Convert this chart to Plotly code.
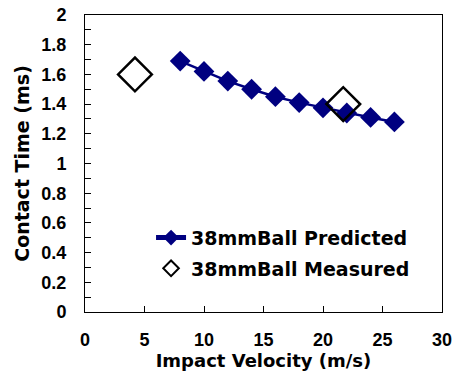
import plotly.graph_objects as go

pred_x = [8, 10, 12, 14, 16, 18, 20, 22, 24, 26]
pred_y = [1.69, 1.62, 1.555, 1.50, 1.45, 1.41, 1.375, 1.34, 1.31, 1.28]
meas_x = [4.2, 21.7]
meas_y = [1.60, 1.40]

x_ticks = [0, 5, 10, 15, 20, 25, 30]
x_labels = ["0", "5", "10", "15", "20", "25", "30"]
y_ticks = [0, 0.2, 0.4, 0.6, 0.8, 1.0, 1.2, 1.4, 1.6, 1.8, 2.0]
y_labels = ["0", "0.2", "0.4", "0.6", "0.8", "1", "1.2", "1.4", "1.6", "1.8", "2"]

tickfont = dict(family="Liberation Sans", size=18, color="black", weight="bold")
titlefont = "DejaVu Sans"

fig = go.Figure()
fig.add_trace(go.Scatter(
    x=pred_x, y=pred_y, mode="lines+markers", name="38mmBall Predicted",
    legendgroup="a",
    line=dict(color="#000080", width=2.5),
    marker=dict(symbol="diamond", size=16, color="#000080"),
))
fig.add_trace(go.Scatter(
    x=meas_x, y=meas_y, mode="markers", name="38mmBall Measured",
    legendgroup="b",
    marker=dict(symbol="diamond", size=26, color="rgba(255,255,255,0)",
                line=dict(color="black", width=2.5)),
))

fig.update_layout(
    template="none",
    width=456, height=371,
    margin=dict(l=85, r=14, t=15, b=59, autoexpand=False),
    paper_bgcolor="white", plot_bgcolor="white",
    showlegend=True,
    legend=dict(x=0.185, y=0.314, xanchor="left", yanchor="top",
                bgcolor="rgba(0,0,0,0)", itemsizing="constant",
                font=dict(family=titlefont, size=19, color="black", weight="bold"),
                tracegroupgap=3),
    xaxis=dict(range=[0, 30], tickvals=x_ticks,
               ticktext=["<b>%s</b>" % t for t in x_labels],
               showgrid=False, zeroline=False, automargin=False,
               showline=True, linecolor="black", linewidth=1, mirror=True,
               ticks="inside", ticklen=6, tickcolor="black",
               tickfont=tickfont, ticklabeloverflow="allow",
               ticklabelstandoff=11,
               title=dict(text="<b>Impact Velocity (m/s)</b>", standoff=6,
                          font=dict(family=titlefont, size=18, color="black"))),
    yaxis=dict(range=[0, 2], tickvals=y_ticks,
               ticktext=["<b>%s</b>" % t for t in y_labels],
               showgrid=False, zeroline=False, automargin=False,
               showline=True, linecolor="black", linewidth=1, mirror=True,
               ticks="inside", ticklen=6, tickcolor="black",
               minor=dict(dtick=0.1, ticks="inside", ticklen=6, tickcolor="black"),
               tickfont=tickfont, ticklabeloverflow="allow",
               ticklabelstandoff=14,
               title=dict(text="<b>Contact Time (ms)</b>", standoff=6,
                          font=dict(family=titlefont, size=19, color="black"))),
)

# remove the browser's default 8px body margin so the figure sits at the window origin
fig.write_html("out.html", config={"displayModeBar": False},
               post_script="document.body.style.margin='0';")
